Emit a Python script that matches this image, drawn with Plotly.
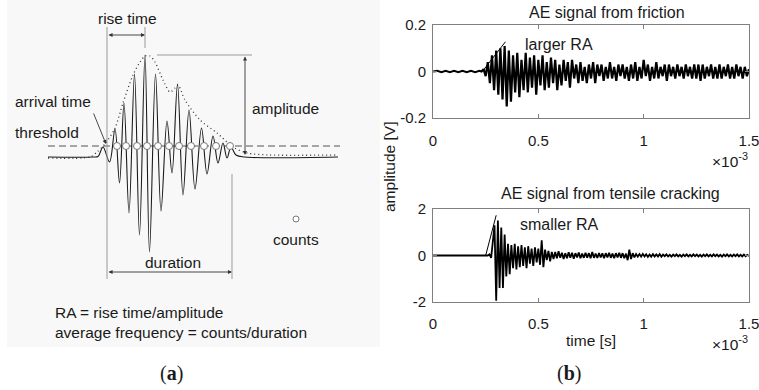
import numpy as np
import plotly.graph_objects as go

FONT = "Liberation Sans, Arial, sans-serif"
SERIF = "Liberation Serif, DejaVu Serif, serif"
INK = "#1a1a1a"

# ---------------- panel (a): schematic AE waveform (arbitrary units) ----------------
wave_t = [0, 45, 50, 55, 61.5, 67, 71.5, 76, 81, 86.5, 91.5, 97, 101.5, 107.5, 113,
          119, 124, 129.5, 135, 141, 147, 153.5, 159, 165, 170, 175, 179, 183, 188,
          197, 290]
wave_a = [0, 0, 0.5, 10, -5, 28, -26, 54, -56, 83, -78, 102, -95, 83, -54,
          36, -16, 73, -38, 47, -32, 29, -17, 21, -6, 14, -1, 10, 2,
          0, 0]
env_t = [0, 42, 49, 57, 67, 75, 85, 92, 97, 102, 107, 115, 122, 127, 130, 137,
         152, 169, 185, 199, 222, 289]
env_a = [-1, 0, 5, 13, 29, 54, 82, 95, 101, 101, 95, 77, 65, 69, 72, 57,
         37, 24, 10, 4, 2, 2]
threshold_level = 11
threshold_span = [0, 292]
count_t = [69, 78, 89, 99, 110, 121, 131, 143, 156, 168, 182]
arrival_t = 59
peak_t = 97
peak_a = 102
end_t = 184

# ---------------- panel (b): measured AE signals (time in 1e-3 s) ----------------
fric_pre_t = [0, 0.02, 0.04, 0.06, 0.08, 0.10, 0.12, 0.14, 0.16, 0.18, 0.20, 0.22, 0.23]
fric_pre_v = [0, 0.003, -0.003, 0.003, -0.003, 0.003, -0.003, 0.003, -0.003, 0.003, -0.003, 0.003, 0]
fric_t0 = 0.24
fric_dt = 0.01
fric_v = [0.01, -0.02, 0.04, -0.05, 0.07, -0.08, 0.09, -0.10, 0.10, -0.12,
          0.11, -0.15, 0.09, -0.13, 0.07, -0.09, 0.08, -0.11, 0.05, -0.08,
          0.08, -0.09, 0.06, -0.07, 0.07, -0.10, 0.05, -0.06, 0.07, -0.08,
          0.04, -0.07, 0.06, -0.05, 0.05, -0.08, 0.03, -0.06, 0.05, -0.04,
          0.04, -0.07, 0.05, -0.03, 0.03, -0.05, 0.04, -0.04, 0.02, -0.05,
          0.03, -0.03, 0.04, -0.05, 0.03, -0.02, 0.03, -0.04, 0.02, -0.03,
          0.04, -0.03, 0.02, -0.04, 0.03, -0.02, 0.03, -0.03, 0.02, -0.04,
          0.03, -0.03, 0.04, -0.04, 0.02, -0.03, 0.05, -0.02, 0.03, -0.04,
          0.02, -0.03, 0.04, -0.03, 0.02, -0.02, 0.03, -0.04, 0.03, -0.02,
          0.02, -0.03, 0.03, -0.02, 0.02, -0.03, 0.03, -0.02, 0.02, -0.03,
          0.03, -0.03, 0.03, -0.04, 0.03, -0.03, 0.02, -0.02, 0.03, -0.03,
          0.02, -0.03, 0.03, -0.03, 0.02, -0.02, 0.03, -0.03, 0.02, -0.03,
          0.03, -0.02, 0.02, -0.03, 0.02, -0.02, 0.01]

tens_pre_t = [0, 0.25]
tens_pre_v = [0, 0]
tens_t0 = 0.26
tens_dt = 0.008
tens_v = [0.0, 0.05, -0.1, 0.6, 1.3, -1.95, 1.5, -1.4, 1.2, -1.4,
          0.9, -0.9, 0.5, -0.8, 0.45, -0.55, 0.5, -0.6, 0.4, -0.5,
          0.45, -0.45, 0.35, -0.55, 0.4, -0.35, 0.3, -0.45, 0.35, -0.3,
          0.3, -0.4, 0.65, -0.5, 0.25, -0.2, 0.2, -0.25, 0.15, -0.15,
          0.15, -0.12, 0.18, -0.1, 0.12, -0.15, 0.1, -0.12, 0.14, -0.1,
          0.12, -0.14, 0.1, -0.08, 0.13, -0.12, 0.08, -0.1, 0.12, -0.09,
          0.1, -0.12, 0.15, -0.1, 0.08, -0.1, 0.1, -0.08, 0.09, -0.12,
          0.1, -0.08, 0.12, -0.1, 0.08, -0.12, 0.1, -0.08, 0.12, -0.1,
          0.1, -0.12, 0.08, -0.2, 0.25, -0.15, 0.1, -0.08, 0.06, -0.05,
          0.06, -0.05, 0.07, -0.04, 0.05, -0.06, 0.04, -0.05, 0.06, -0.04,
          0.05, -0.04, 0.06, -0.05, 0.04, -0.03, 0.05, -0.04, 0.03, -0.05,
          0.04, -0.03, 0.05, -0.04, 0.03, -0.05, 0.04, -0.03, 0.05, -0.04,
          0.03, -0.04, 0.05, -0.03, 0.04, -0.04, 0.03, -0.05, 0.04, -0.03,
          0.05, -0.04, 0.03, -0.04, 0.05, -0.03, 0.04, -0.04, 0.03, -0.05,
          0.04, -0.03, 0.05, -0.04, 0.03, -0.04, 0.04, -0.03, 0.05, -0.04,
          0.03, -0.04, 0.04, -0.03, 0.03, -0.02]

x_ticks = [0, 0.5, 1, 1.5]
x_ticktext = ["0", "0.5", "1", "1.5"]
fric_yticks = [-0.2, 0, 0.2]
fric_yticktext = ["-0.2", "0", "0.2"]
tens_yticks = [-2, 0, 2]
tens_yticktext = ["-2", "0", "2"]

fric_t = list(fric_pre_t) + list(fric_t0 + fric_dt * np.arange(len(fric_v)))
fric_all = list(fric_pre_v) + list(fric_v)
tens_t = list(tens_pre_t) + list(tens_t0 + tens_dt * np.arange(len(tens_v)))
tens_all = list(tens_pre_v) + list(tens_v)

W, H = 759, 390


def px(x):
    return x / W


def py(y):
    return 1 - y / H


fig = go.Figure()

# panel (a)
fig.add_trace(go.Scatter(x=env_t, y=env_a, mode="lines", xaxis="x", yaxis="y",
                         line=dict(color="#333", width=1.3, dash="1px,3px", shape="spline", smoothing=0.8),
                         hoverinfo="skip"))
fig.add_trace(go.Scatter(x=threshold_span, y=[threshold_level] * 2, mode="lines", xaxis="x", yaxis="y",
                         line=dict(color="#555", width=1, dash="7px,4px"), hoverinfo="skip"))
fig.add_trace(go.Scatter(x=wave_t, y=wave_a, mode="lines", xaxis="x", yaxis="y",
                         line=dict(color=INK, width=1.1, shape="spline", smoothing=1.0),
                         hoverinfo="skip"))
fig.add_trace(go.Scatter(x=count_t, y=[threshold_level] * len(count_t), mode="markers", xaxis="x", yaxis="y",
                         marker=dict(symbol="circle", size=7, color="white", line=dict(color="#777", width=1)),
                         hoverinfo="skip"))
fig.add_trace(go.Scatter(x=[248], y=[-62], mode="markers", xaxis="x", yaxis="y",
                         marker=dict(symbol="circle", size=6, color="white", line=dict(color="#777", width=1)),
                         hoverinfo="skip"))

# panel (b)
fig.add_trace(go.Scatter(x=fric_t, y=fric_all, mode="lines", xaxis="x2", yaxis="y2",
                         line=dict(color="black", width=2.2), hoverinfo="skip"))
fig.add_trace(go.Scatter(x=tens_t, y=tens_all, mode="lines", xaxis="x3", yaxis="y3",
                         line=dict(color="black", width=1.8), hoverinfo="skip"))
# RA slope lines
fig.add_trace(go.Scatter(x=[0.234, 0.344], y=[0.0, 0.128], mode="lines", xaxis="x2", yaxis="y2",
                         line=dict(color="black", width=1), hoverinfo="skip"))
fig.add_trace(go.Scatter(x=[0.25, 0.30], y=[0.0, 1.73], mode="lines", xaxis="x3", yaxis="y3",
                         line=dict(color="black", width=1), hoverinfo="skip"))

axis_common = dict(showline=True, mirror="ticks", linecolor="#7f7f7f", linewidth=1,
                   ticks="inside", ticklen=4, tickcolor="#7f7f7f", showgrid=False, zeroline=False,
                   ticklabeloverflow="allow",
                   tickfont=dict(family=FONT, size=15, color=INK))

fig.update_layout(
    width=W, height=H, margin=dict(l=0, r=0, t=0, b=0, pad=0, autoexpand=False),
    paper_bgcolor="white", plot_bgcolor="rgba(0,0,0,0)", showlegend=False,
    xaxis=dict(domain=[0, 380 / W], range=[-48, 332], visible=False, fixedrange=True),
    yaxis=dict(domain=[0, 1], range=[-233, 157], visible=False, fixedrange=True),
    xaxis2=dict(domain=[px(433), px(749)], range=[0, 1.5], anchor="y2",
                tickvals=x_ticks, ticktext=x_ticktext, ticklabelstandoff=9, **axis_common),
    yaxis2=dict(domain=[py(118), py(25)], range=[-0.2, 0.2], anchor="x2",
                tickvals=fric_yticks, ticktext=fric_yticktext, ticklabelstandoff=3, **axis_common),
    xaxis3=dict(domain=[px(433), px(749)], range=[0, 1.5], anchor="y3",
                tickvals=x_ticks, ticktext=x_ticktext, ticklabelstandoff=8, **axis_common),
    yaxis3=dict(domain=[py(302), py(209)], range=[-2, 2], anchor="x3",
                tickvals=tens_yticks, ticktext=tens_yticktext, ticklabelstandoff=3, **axis_common),
)

shapes = []
gl = dict(color="#999", width=1)
shapes.append(dict(type="rect", xref="paper", yref="paper", x0=px(7), x1=px(380), y0=py(347), y1=py(0),
                   fillcolor="#f8f8f8", line=dict(width=0), layer="below"))
shapes.append(dict(type="line", xref="x", yref="y", x0=arrival_t, x1=arrival_t, y0=130, y1=-122, line=gl))
shapes.append(dict(type="line", xref="x", yref="y", x0=peak_t, x1=peak_t, y0=130, y1=109, line=gl))
shapes.append(dict(type="line", xref="x", yref="y", x0=109, x1=204, y0=peak_a, y1=peak_a, line=gl))
shapes.append(dict(type="line", xref="x", yref="y", x0=end_t, x1=end_t, y0=-17, y1=-122, line=gl))
fig.update_layout(shapes=shapes)

ann = []


def arrow(x0, y0, x1, y1, both=True, color="#333"):
    ann.append(dict(x=x1, y=y1, ax=x0, ay=y0, xref="x", yref="y", axref="x", ayref="y",
                    showarrow=True, arrowhead=2, arrowsize=0.9, arrowwidth=0.9, arrowcolor=color,
                    arrowside="end+start" if both else "end", text=""))


arrow(arrival_t, 122, peak_t, 122)           # rise time
arrow(197, peak_a, 197, 2)                   # amplitude
arrow(arrival_t, -115, end_t, -115)          # duration
arrow(45, 45, 58, 13, both=False)            # arrival time pointer


def text(x, y, s, size=15.5, anchor="center", font=FONT, color=INK, angle=0):
    ann.append(dict(x=px(x), y=py(y), xref="paper", yref="paper", text=s, showarrow=False,
                    xanchor=anchor, yanchor="middle", textangle=angle,
                    font=dict(family=font, size=size, color=color)))


text(127, 18, "rise time")
text(250, 108, "amplitude", anchor="left")
text(13, 102, "arrival time", anchor="left")
text(13, 132, "threshold", anchor="left")
text(173, 262, "duration")
text(296, 239, "counts")
text(53, 312, "RA = rise time/amplitude", anchor="left")
text(53, 332, "average frequency = counts/duration", anchor="left")
text(171, 373, "(<b>a</b>)", size=20, font=SERIF)
text(569, 373, "(<b>b</b>)", size=20, font=SERIF)

text(607, 12, "AE signal from friction", size=16)
text(610, 193, "AE signal from tensile cracking", size=16)
text(523, 44, "larger RA", size=16, anchor="left")
text(518, 225, "smaller RA", size=16, anchor="left")
text(591, 340, "time [s]", size=15.5)
text(389, 167, "amplitude [V]", size=15.5, angle=-90)
text(750, 160, "×10<sup>-3</sup>", size=15.5, anchor="right")
text(750, 343, "×10<sup>-3</sup>", size=15.5, anchor="right")

fig.update_layout(annotations=ann)

fig.write_html("out.html")
